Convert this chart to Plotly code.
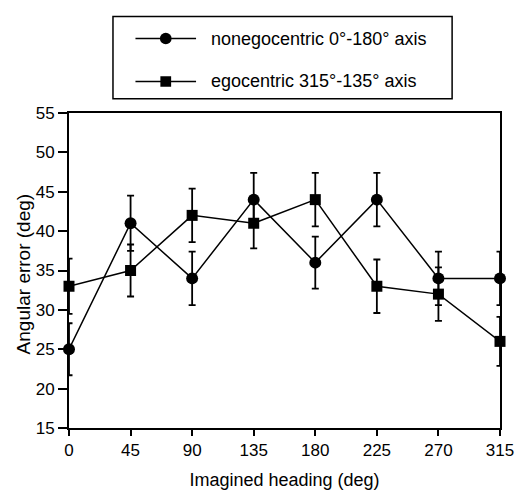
import plotly.graph_objects as go

# ---- data ----
headings = [0, 45, 90, 135, 180, 225, 270, 315]
nonego_err = [25, 41, 34, 44, 36, 44, 34, 34]
nonego_se = [3.3, 3.5, 3.4, 3.4, 3.3, 3.4, 3.4, 3.4]
ego_err = [33, 35, 42, 41, 44, 33, 32, 26]
ego_se = [3.5, 3.3, 3.4, 3.2, 3.4, 3.4, 3.4, 3.1]
series_names = ["nonegocentric 0°-180° axis", "egocentric 315°-135° axis"]
x_ticks = [0, 45, 90, 135, 180, 225, 270, 315]
y_ticks = [15, 20, 25, 30, 35, 40, 45, 50, 55]
x_title = "Imagined heading (deg)"
y_title = "Angular error (deg)"

W, H = 526, 499
L, R, T, B = 69, 16, 113, 56
PW = W - L - R
PH = H - T - B
FONT = "Liberation Sans, Arial, sans-serif"

fig = go.Figure()
for name, ys, se, sym, size in [
    (series_names[0], nonego_err, nonego_se, "circle", 12),
    (series_names[1], ego_err, ego_se, "square", 11),
]:
    fig.add_trace(go.Scatter(
        x=headings, y=ys, name=name, mode="lines+markers",
        line=dict(color="black", width=1.5),
        marker=dict(symbol=sym, size=size, color="black"),
        error_y=dict(type="data", array=se, visible=True, color="black",
                     thickness=1.8, width=3.5),
        cliponaxis=False, showlegend=False,
    ))

# ---- manual legend (layout decoration, page pixel positions) ----
def px(xp):
    return (xp - L) / PW

def py(yp):
    return (H - B - yp) / PH

shapes = [dict(type="rect", xref="paper", yref="paper",
               x0=px(114), x1=px(461), y0=py(98), y1=py(12),
               line=dict(color="black", width=1.5), fillcolor="white")]
annotations = []
for i, (name, sym) in enumerate(zip(series_names, ["circle", "square"])):
    yc = 35 + i * 45
    shapes.append(dict(type="line", xref="paper", yref="paper",
                       x0=px(137), x1=px(199), y0=py(yc), y1=py(yc),
                       line=dict(color="black", width=1.5)))
    half = 6 if sym == "circle" else 5.5
    shapes.append(dict(type="circle" if sym == "circle" else "rect",
                       xref="paper", yref="paper",
                       x0=px(168 - half), x1=px(168 + half),
                       y0=py(yc + half), y1=py(yc - half),
                       line=dict(color="black", width=0), fillcolor="black"))
    annotations.append(dict(xref="paper", yref="paper", x=px(212), y=py(yc),
                            xanchor="left", yanchor="middle", showarrow=False,
                            text=name, font=dict(family=FONT, size=18, color="black")))

# y-axis title as rotated annotation for precise placement
annotations.append(dict(xref="paper", yref="paper", x=px(22), y=py(282),
                        xanchor="center", yanchor="middle", showarrow=False,
                        textangle=-90, text=y_title,
                        font=dict(family=FONT, size=19, color="black")))

fig.update_layout(
    width=W, height=H,
    margin=dict(l=L, r=R, t=T, b=B),
    paper_bgcolor="white", plot_bgcolor="white",
    font=dict(family=FONT, size=17, color="black"),
    shapes=shapes, annotations=annotations,
    showlegend=False,
    xaxis=dict(range=[0, 315], tickvals=x_ticks, ticks="outside", ticklen=6,
               tickwidth=1.5, tickcolor="black", showline=True, linecolor="black",
               linewidth=2, mirror=True, showgrid=False, zeroline=False,
               title=dict(text=x_title, font=dict(size=18), standoff=14),
               tickfont=dict(size=17)),
    yaxis=dict(range=[15, 55], tickvals=y_ticks, ticks="outside", ticklen=9,
               tickwidth=1.5, tickcolor="black", showline=True, linecolor="black",
               linewidth=2, mirror=True, showgrid=False, zeroline=False,
               tickfont=dict(size=17)),
)

fig.write_html(
    "out.html",
    config={"displayModeBar": False},
    post_script="document.body.style.margin='0';document.body.style.overflow='hidden';",
)
